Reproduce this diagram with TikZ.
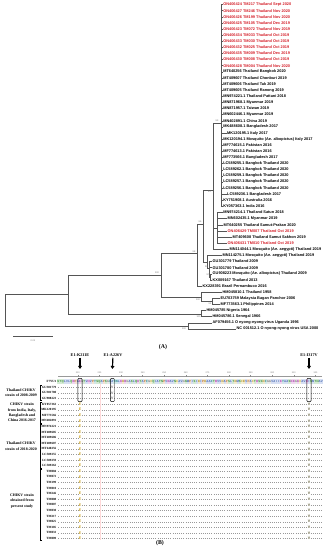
\documentclass[tikz,border=0pt]{standalone}
\usepackage{fontspec}
\setmainfont{Liberation Serif}
\newfontfamily\treefont{Liberation Sans}
\usetikzlibrary{arrows.meta, positioning}

\definecolor{studyred}{RGB}{212,32,42}
\definecolor{treegray}{RGB}{85,85,85}
% residue colours of the reference row
\definecolor{cA}{RGB}{70,110,200}
\definecolor{cV}{RGB}{70,110,200}
\definecolor{cL}{RGB}{70,110,200}
\definecolor{cI}{RGB}{70,110,200}
\definecolor{cM}{RGB}{70,110,200}
\definecolor{cF}{RGB}{40,150,160}
\definecolor{cW}{RGB}{40,150,160}
\definecolor{cY}{RGB}{40,150,160}
\definecolor{cK}{RGB}{190,60,190}
\definecolor{cR}{RGB}{190,60,190}
\definecolor{cH}{RGB}{190,60,190}
\definecolor{cD}{RGB}{200,160,30}
\definecolor{cE}{RGB}{200,160,30}
\definecolor{cS}{RGB}{60,160,60}
\definecolor{cT}{RGB}{60,160,60}
\definecolor{cN}{RGB}{60,160,60}
\definecolor{cQ}{RGB}{60,160,60}
\definecolor{cG}{RGB}{150,150,150}
\definecolor{cP}{RGB}{210,130,50}
\definecolor{cC}{RGB}{220,190,60}

\tikzset{
  branch/.style={draw=treegray, line width=0.35pt},
  leaf/.style={anchor=west, inner sep=0.4pt, font=\treefont\bfseries\fontsize{3.3}{3.5}\selectfont},
  boot/.style={inner sep=0pt, text=black!55, font=\treefont\fontsize{2}{2}\selectfont},
  panel/.style={font=\bfseries\fontsize{5}{5}\selectfont},
  seqname/.style={anchor=east, inner sep=0pt, font=\bfseries\fontsize{2.7}{2.7}\selectfont},
  grouplbl/.style={align=center, inner sep=0pt, font=\bfseries\fontsize{3.3}{4.5}\selectfont},
  res/.style={inner sep=0pt, minimum width=0.065cm, minimum height=0.15cm, font=\treefont\bfseries\fontsize{2.4}{2.4}\selectfont},
  seqdots/.style={draw=black!40, line width=0.3pt, dash pattern=on 0.35pt off 1.49pt},
  varres/.style={inner sep=0.15pt, fill=white, font=\treefont\bfseries\fontsize{3}{3}\selectfont},
  mutbox/.style={draw=black, line width=0.35pt, rounded corners=0.8pt},
  mutlabel/.style={inner sep=0.5pt, font=\bfseries\fontsize{3.6}{3.6}\selectfont},
  mutarrow/.style={line width=1pt, -{Triangle[width=3.2pt,length=2.6pt]}},
  ruler/.style={text=black!55, inner sep=0pt, font=\treefont\fontsize{1.9}{1.9}\selectfont}
}

\begin{document}
\begin{tikzpicture}[x=0.03cm,y=-0.03cm]
\useasboundingbox (0,0) rectangle (326,550);

% Internal nodes of the tree
\coordinate (root) at (5,310);
\coordinate (ntop) at (68,294);
\coordinate (onnv) at (188,325.9);
\coordinate (waf) at (201,313.7);
\coordinate (n100) at (161,275);
\coordinate (asia) at (201,297.3);
\coordinate (n94) at (212,301.5);
\coordinate (n98) at (197,253);
\coordinate (n96) at (203,224);
\coordinate (n44) at (213,190);
\coordinate (gA) at (207,262);
\coordinate (gB) at (209,268);
\coordinate (gC) at (210.5,276.8);
\coordinate (c1) at (221,123);
\coordinate (c2) at (217.5,228);

% Inner branches
\draw[branch] (root) |- (ntop);
\draw[branch] (root) |- (onnv);
\draw[branch] (ntop) |- (n100);
\draw[branch] (ntop) |- (waf);
\draw[branch] (n100) |- (n98);
\draw[branch] (n100) |- (asia);
\draw[branch] (asia) |- (n94);
\draw[branch] (n98) |- (n96);
\draw[branch] (n96) |- (n44);
\draw[branch] (n96) |- (gA);
\draw[branch] (gA) |- (gB);
\draw[branch] (gB) |- (gC);
\draw[branch] (n44) |- (c1);
\draw[branch] (n44) |- (c2);

% Leaves
\foreach \i/\tx/\up/\lc/\txt in {
  1/222.6/c1/studyred/{ON406424 TM217 Thailand Sept 2020},
  2/222.6/c1/studyred/{ON406427 TM246 Thailand Nov 2020},
  3/222.6/c1/studyred/{ON406426 TM199 Thailand Nov 2020},
  4/222.6/c1/studyred/{ON406425 TM105 Thailand Dec 2019},
  5/222.6/c1/studyred/{ON406423 TM072 Thailand Nov 2019},
  6/222.6/c1/studyred/{ON406434 TM033 Thailand Oct 2019},
  7/222.6/c1/studyred/{ON406433 TM030 Thailand Oct 2019},
  8/222.6/c1/studyred/{ON406432 TM025 Thailand Oct 2019},
  9/222.6/c1/studyred/{ON406435 TM009 Thailand Dec 2019},
  10/222.6/c1/studyred/{ON406430 TM008 Thailand Oct 2019},
  11/222.6/c1/studyred/{ON406428 TM004 Thailand Nov 2020},
  12/222.6/c1/black/{MT640256 Thailand Bangkok 2020},
  13/222.6/c1/black/{MT409607 Thailand Chonburi 2019},
  14/222.6/c1/black/{MT409606 Thailand Tak 2019},
  15/222.6/c1/black/{MT409605 Thailand Ranong 2019},
  16/222.6/c1/black/{MN974221.1 Thailand Pattani 2018},
  17/222.6/c1/black/{MN871968.1 Myanmar 2019},
  18/222.6/c1/black/{MN871957.1 Taiwan 2019},
  19/222.6/c1/black/{MN602446.1 Myanmar 2019},
  20/222.6/c1/black/{MN402891.1 China 2019},
  21/222.6/c1/black/{MK488608.1 Bangladesh 2017},
  22/226.5/c1/black/{MK120195.1 Italy 2017},
  23/222.6/c1/black/{MK120194.1 Mosquito (Ae. albopictus) Italy 2017},
  24/222.6/c1/black/{MF774615.1 Pakistan 2016},
  25/222.6/c1/black/{MF774613.1 Pakistan 2016},
  26/222.6/c1/black/{MF773566.1 Bangladesh 2017},
  27/222.6/c1/black/{LC589255.1 Bangkok Thailand 2020},
  28/222.6/c1/black/{LC589262.1 Bangkok Thailand 2020},
  29/222.6/c1/black/{LC589259.1 Bangkok Thailand 2020},
  30/222.6/c1/black/{LC589257.1 Bangkok Thailand 2020},
  31/222.6/c1/black/{LC589256.1 Bangkok Thailand 2020},
  32/226.5/c1/black/{LC589236.1 Bangladesh 2017},
  33/222.6/c1/black/{KY751908.1 Australia 2016},
  34/222.6/c1/black/{KY057363.1 India 2016},
  35/222.6/c2/black/{MN974214.1 Thailand Satun 2018},
  36/227/c2/black/{MN602435.1 Myanmar 2019},
  37/223/c2/black/{MT640255 Thailand Samut-Prakan 2020},
  38/227/c2/studyred/{ON406429 TM007 Thailand Oct 2019},
  39/232/c2/black/{MT409608 Thailand Samut Sakhon 2019},
  40/227/c2/studyred/{ON406431 TM010 Thailand Oct 2019},
  41/229/n44/black/{MN114044.1 Mosquito (Ae. aegypti) Thailand 2019},
  42/222/gA/black/{MN114275.1 Mosquito (Ae. aegypti) Thailand 2019},
  43/212/gB/black/{GU301779 Thailand 2009},
  44/212/gB/black/{GU301780 Thailand 2009},
  45/212/gC/black/{GU908223 Mosquito (Ae. albopictus) Thailand 2009},
  46/212/gC/black/{KX009167 Thailand 2013},
  47/202/n98/black/{KX228391 Brazil Pernambuco 2016},
  48/222/asia/black/{HM045810.1 Thailand 1958},
  49/220/n94/black/{EU703759 Malaysia Bagan Panchor 2006},
  50/220/n94/black/{MF773563.1 Philippines 2014},
  51/206/waf/black/{HM045785 Nigeria 1964},
  52/212/waf/black/{HM045786.1 Senegal 1966},
  53/212/onnv/black/{AF079456.1 O nyong-nyong virus Uganda 1996},
  54/236/onnv/black/{NC 001512.1 O nyong-nyong virus USA 2000}}{
  \pgfmathsetmacro{\yy}{4.5+(\i-1)*6.12}
  \node[leaf, text=\lc] (leaf\i) at (\tx,\yy) {\txt};
  \draw[branch] (\up) |- (leaf\i.west);
}

% Bootstrap values
\node[boot] (bc1) at (217,121) {99};
\node[boot] (bn44) at (209.5,192) {44};
\node[boot] (bn96) at (200,222) {96};
\node[boot] (bn98) at (194,251.5) {98};
\node[boot] (bgB) at (206.5,266.5) {96};
\node[boot] (bgC) at (208,275) {97};
\node[boot] (bn100) at (157,273) {100};
\node[boot] (basia) at (198,300) {100};
\node[boot] (bn94) at (210,304) {94};
\node[boot] (bwaf) at (198.5,316.5) {100};
\node[boot] (bonnv) at (184,329) {100};

% Scale bar
\coordinate (sbl) at (13,336);
\coordinate (sbr) at (53,336);
\draw[branch] (sbl) -- (sbr);
\node[boot] (sblbl) at (33,340.5) {0.01};

\node[panel] (panA) at (163,347) {(A)};

% ---------------- Panel B ----------------
% Mutation labels and arrows
\node[mutlabel] (lblK) at (80,355.5) {E1-K211E};
\node[mutlabel] (lblA) at (113,355.5) {E1-A226V};
\node[mutlabel] (lblI) at (309,355.5) {E1-I317V};
\coordinate (tipK) at (80,369);
\coordinate (tipA) at (112.4,369);
\coordinate (tipI) at (309,369);
\draw[mutarrow] (lblK) -- (tipK);
\draw[mutarrow] (lblA) -- (tipA);
\draw[mutarrow] (lblI) -- (tipI);

% Ruler
\draw[draw=black!40, line width=0.25pt] (58.4,376.5) -- (322,376.5);
\foreach \p in {210,220,...,320}{
  \pgfmathsetmacro{\px}{58.4+(\p-201)*2.16}
  \draw[draw=black!45, line width=0.25pt] (\px,375.3) -- (\px,376.5);
  \node[ruler] (tick\p) at (\px,373) {\p};
}

% Faint highlighted column
\draw[draw=red!15, line width=0.3pt] (100,379) -- (100,540);

% Reference row
\foreach \aa [count=\k from 0] in {N,T,Q,L,V,L,Q,R,P,A,
  K,G,T,V,H,V,P,Y,S,Q, A,P,S,G,F,A,Y,W,L,K, E,R,G,A,S,L,Q,H,T,A,
  P,F,G,C,Q,I,A,T,N,P, V,R,A,V,N,C,A,V,G,N, M,P,I,S,I,D,I,P,E,A,
  A,F,T,R,V,V,D,A,P,S, L,T,D,M,S,C,E,V,P,A, C,T,H,S,S,D,F,G,G,V,
  A,I,I,K,Y,A,A,S,K,K, G,K,C,A,V,H,I,S,M,T, N,A,V}{
  \node[res, fill=c\aa!22, text=c\aa!85!black] (ref\k) at ({58.4+\k*2.16},381.7) {\aa};
}

% Identity dots of the other rows
\foreach \k in {1,...,28}{
  \draw[seqdots] (58.4,{381.7+5.6*\k}) -- (322,{381.7+5.6*\k});
}

% Variable sites
\foreach \k in {1,2,3}{
  \node[varres, text=black!55] (avar\k) at (112.4,{381.7+5.6*\k}) {V};
}
\foreach \k in {4,...,28}{
  \node[varres, text=cE] (kvar\k) at (80,{381.7+5.6*\k}) {E};
  \node[varres, text=black!50!olive] (ivar\k) at (309,{381.7+5.6*\k}) {V};
}

% Boxes round the sites
\draw[mutbox] (77.9,378.4) rectangle (82.1,401.6);
\draw[mutbox] (110.3,378.4) rectangle (114.5,401.6);
\draw[mutbox] (306.9,378.4) rectangle (311.1,401.6);

% Sequence names
\foreach \k/\nm in {0/F7YU1, 1/GU301779, 2/GU301780, 3/GU908223,
  4/KY057363, 5/MK120195, 6/MF773566, 7/MN402891,
  8/MN974221, 9/MT409605, 10/MT409606, 11/MT409607,
  12/MT640256, 13/LC589255, 14/LC589259, 15/LC589262,
  16/TM004, 17/TM072, 18/TM199, 19/TM010, 20/TM246, 21/TM008,
  22/TM007, 23/TM030, 24/TM217, 25/TM025, 26/TM105, 27/TM033, 28/TM009}{
  \node[seqname] (nm\k) at (56.5,{381.7+5.6*\k}) {\nm};
}

% Group brackets
\foreach \a/\b in {1/3, 4/7, 8/15, 16/28}{
  \draw[line width=0.3pt] (42,{381.7+5.6*\a-2}) -- (40.5,{381.7+5.6*\a-2})
    -- (40.5,{381.7+5.6*\b+2}) -- (42,{381.7+5.6*\b+2});
}

% Group labels
\node[grouplbl] (grp1) at (21,392.9) {Thailand CHIKV\\strain of 2008-2009};
\node[grouplbl] (grp2) at (22,412.5) {CHIKV strain\\from India, Italy,\\Bangladesh and\\China 2016-2017};
\node[grouplbl] (grp3) at (21,446.1) {Thailand CHIKV\\strain of 2018-2020};
\node[grouplbl] (grp4) at (22,501) {CHIKV strain\\obtained from\\present study};

\node[panel] (panB) at (160,543) {(B)};
\end{tikzpicture}
\end{document}
